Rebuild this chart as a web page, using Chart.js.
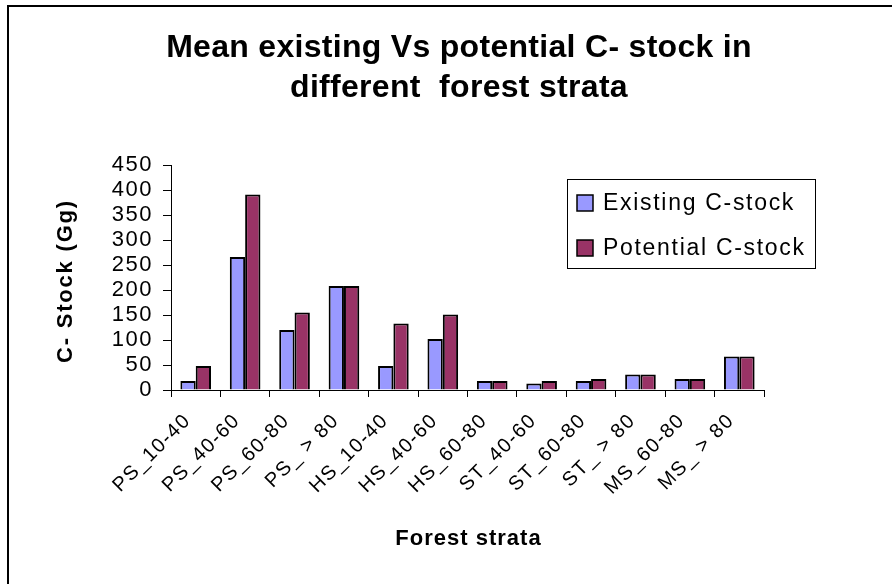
<!DOCTYPE html>
<html>
<head>
<meta charset="utf-8">
<script src="https://cdn.jsdelivr.net/npm/chart.js@4"></script>
<style>
  body { margin: 0; background: #fff; }
</style>
</head>
<body>
<canvas id="chart" width="892" height="584"></canvas>
<script>
// Values (Gg)
const strata = ['PS_10-40', 'PS_40-60', 'PS_60-80', 'PS_ > 80', 'HS_10-40', 'HS_40-60',
                'HS_60-80', 'ST_40-60', 'ST_60-80', 'ST_ > 80', 'MS_60-80', 'MS_ > 80'];
const existing = [18, 266, 120, 208, 48, 102, 18, 13, 18, 31, 22, 67];
const potential = [48, 391, 155, 208, 133, 151, 18, 18, 22, 31, 22, 67];
const yMax = 450;
const yStep = 50;

const titleLines = ['Mean existing Vs potential C- stock in', 'different  forest strata'];
const xTitle = 'Forest strata';
const yTitle = 'C- Stock (Gg)';

const FONT = "'Liberation Sans', Arial, sans-serif";

// white background, frame and the wide-spaced text the original uses
const framePlugin = {
    id: 'frame',
    beforeDraw(chart) {
        const ctx = chart.ctx;
        ctx.save();
        ctx.fillStyle = '#fff';
        ctx.fillRect(0, 0, chart.width, chart.height);
        ctx.strokeStyle = '#000';
        ctx.lineWidth = 2;
        ctx.strokeRect(8, 6, chart.width + 10, chart.height + 10);
        ctx.restore();
        // tick labels in the original are spaced out a little
        ctx.letterSpacing = '1.5px';
    }
};

// Titles drawn by hand so the letter spacing can match
const titlesPlugin = {
    id: 'titles',
    afterDraw(chart) {
        const ctx = chart.ctx;
        const area = chart.chartArea;
        ctx.save();
        ctx.fillStyle = '#000';
        ctx.textBaseline = 'alphabetic';
        ctx.textAlign = 'center';

        ctx.font = 'bold 32px ' + FONT;
        ctx.letterSpacing = '0.3px';
        ctx.fillText(titleLines[0], 459, 57);
        ctx.fillText(titleLines[1], 459, 97);

        ctx.font = 'bold 22px ' + FONT;
        ctx.letterSpacing = '1px';
        ctx.fillText(xTitle, (area.left + area.right) / 2 + 1, 545);

        ctx.translate(72, 281);
        ctx.rotate(-Math.PI / 2);
        ctx.letterSpacing = '1.8px';
        ctx.fillText(yTitle, 0, 0);
        ctx.restore();
    }
};

// Boxed legend sitting inside the plot, top right
const boxLegend = {
    id: 'boxLegend',
    afterDraw(chart) {
        const ctx = chart.ctx;
        const x = 567, y = 179, w = 248, h = 89;
        ctx.save();
        ctx.fillStyle = '#fff';
        ctx.fillRect(x, y, w, h);
        ctx.strokeStyle = '#000';
        ctx.lineWidth = 1;
        ctx.strokeRect(x + 0.5, y + 0.5, w, h);
        ctx.font = '23px ' + FONT;
        ctx.letterSpacing = '1.7px';
        ctx.textBaseline = 'middle';
        chart.data.datasets.forEach((ds, i) => {
            const cy = y + 24 + i * 45;
            ctx.fillStyle = ds.backgroundColor;
            ctx.fillRect(577, cy - 8, 16, 16);
            ctx.strokeStyle = '#000';
            ctx.lineWidth = 1.5;
            ctx.strokeRect(577, cy - 8, 16, 16);
            ctx.fillStyle = '#000';
            ctx.fillText(ds.label, 603, cy + 1);
        });
        ctx.restore();
    }
};

new Chart(document.getElementById('chart'), {
    type: 'bar',
    data: {
        labels: strata,
        datasets: [
            {
                label: 'Existing C-stock',
                data: existing,
                backgroundColor: '#9999FF',
                borderColor: '#000',
                borderWidth: 2
            },
            {
                label: 'Potential C-stock',
                data: potential,
                backgroundColor: '#993366',
                borderColor: '#000',
                borderWidth: 2
            }
        ]
    },
    options: {
        responsive: false,
        animation: false,
        layout: { padding: { left: 0, right: 128, top: 165, bottom: 0 } },
        datasets: {
            bar: { categoryPercentage: 0.62, barPercentage: 1 }
        },
        scales: {
            x: {
                grid: { drawOnChartArea: false, offset: true, color: '#000', tickLength: 7 },
                border: { color: '#000', width: 1 },
                ticks: {
                    color: '#000',
                    font: { family: FONT, size: 20 },
                    maxRotation: 45,
                    minRotation: 45,
                    padding: 12,
                    labelOffset: -8
                },
                afterFit(scale) { scale.height = 194; }
            },
            y: {
                min: 0,
                max: yMax,
                grid: { drawOnChartArea: false, color: '#000', tickLength: 8 },
                border: { color: '#000', width: 1 },
                ticks: {
                    stepSize: yStep,
                    autoSkip: false,
                    color: '#000',
                    font: { family: FONT, size: 22 },
                    padding: 10
                },
                afterFit(scale) { scale.width = 171; }
            }
        },
        plugins: {
            legend: { display: false },
            tooltip: { enabled: false },
            title: { display: false }
        }
    },
    plugins: [framePlugin, titlesPlugin, boxLegend]
});
</script>
</body>
</html>
